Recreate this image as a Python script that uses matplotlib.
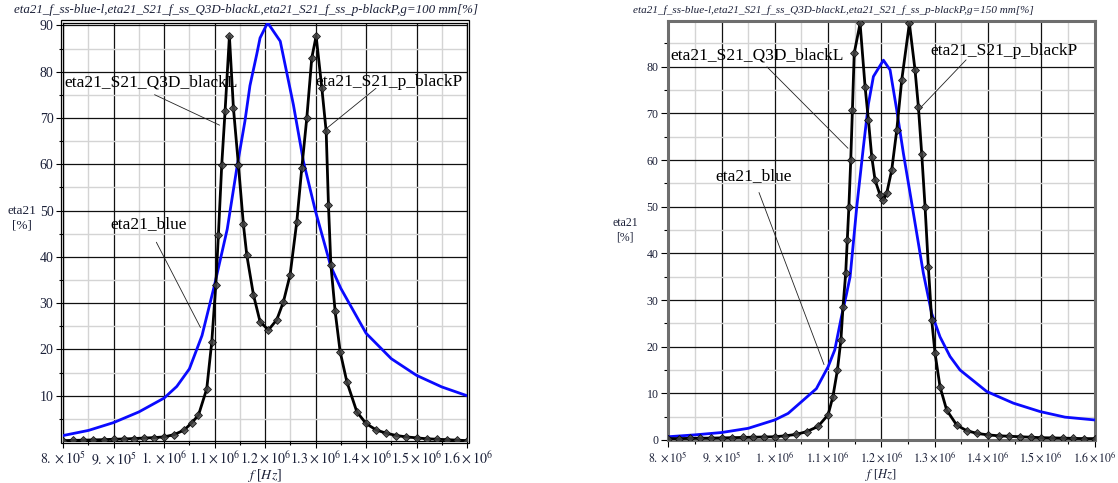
"""
Two Maple-style efficiency plots: eta21 vs f for g=100 mm and g=150 mm.
"""

import matplotlib.pyplot as plt
from matplotlib.ticker import FixedLocator, FixedFormatter, MultipleLocator
from matplotlib.patches import Rectangle

plt.rcParams['font.family'] = ['Liberation Serif', 'DejaVu Serif']
plt.rcParams['mathtext.fontset'] = 'stix'

# ---- data ------------------------------------------------------------
# g = 100 mm
freq_blue_100 = [8.0e5, 8.5e5, 9.0e5, 9.5e5, 1.0e6, 1.025e6, 1.05e6, 1.075e6,
                 1.1e6, 1.125e6, 1.144e6, 1.16e6, 1.17e6, 1.1835e6, 1.19e6,
                 1.205e6, 1.23e6, 1.256e6, 1.276e6, 1.3e6, 1.33e6, 1.35e6,
                 1.4e6, 1.45e6, 1.5e6, 1.55e6, 1.6e6]
eta_blue_100 = [1.4, 2.5, 4.2, 6.5, 9.5, 12.0, 15.8, 23.0,
                34.0, 46.0, 59.2, 69.3, 77.0, 83.8, 87.3,
                90.6, 86.6, 72.9, 60.6, 49.8, 38.0, 33.2,
                23.5, 18.0, 14.4, 11.9, 10.0]

freq_black_100 = [8.0e5, 8.2e5, 8.4e5, 8.6e5, 8.8e5, 9.0e5, 9.2e5, 9.4e5,
                  9.6e5, 9.8e5, 1.0e6, 1.02e6, 1.04e6, 1.055e6, 1.068e6,
                  1.0844e6, 1.0944e6, 1.1023e6, 1.1075e6, 1.1141e6, 1.1207e6,
                  1.1293e6, 1.1372e6, 1.1471e6, 1.157e6, 1.1637e6, 1.1769e6,
                  1.19e6, 1.2066e6, 1.2231e6, 1.2363e6, 1.2495e6, 1.2628e6,
                  1.2727e6, 1.2826e6, 1.2925e6, 1.3011e6, 1.3124e6, 1.321e6,
                  1.3255e6, 1.3303e6, 1.3388e6, 1.3487e6, 1.362e6, 1.3818e6,
                  1.4e6, 1.42e6, 1.44e6, 1.46e6, 1.48e6, 1.5e6, 1.52e6,
                  1.54e6, 1.56e6, 1.58e6, 1.6e6]
eta_q3d_100 = [0.3, 0.35, 0.4, 0.45, 0.5, 0.6, 0.65, 0.75,
               0.85, 0.95, 1.1, 1.6, 2.6, 4.2, 5.8,
               11.5, 21.7, 33.9, 44.8, 59.9, 71.5,
               87.7, 72.2, 59.9, 47.0, 40.4, 31.8,
               26.0, 24.2, 26.4, 30.3, 36.1, 47.6,
               59.2, 70.0, 83.0, 87.7, 76.5, 67.1,
               51.3, 38.3, 28.2, 19.5, 13.0, 6.5,
               4.0, 2.6, 1.9, 1.4, 1.1, 0.9, 0.7,
               0.6, 0.5, 0.4, 0.3]
eta_p_100 = list(eta_q3d_100)  # point series lies on top of the line series

# g = 150 mm
freq_blue_150 = [8.0e5, 8.5e5, 9.0e5, 9.5e5, 1.0e6, 1.025e6, 1.05e6, 1.078e6,
                 1.1e6, 1.1125e6, 1.125e6, 1.134e6, 1.1413e6, 1.1538e6,
                 1.1663e6, 1.1756e6, 1.185e6, 1.2038e6, 1.2163e6, 1.2288e6,
                 1.2413e6, 1.2538e6, 1.2663e6, 1.2788e6, 1.2944e6, 1.31e6,
                 1.3288e6, 1.3475e6, 1.3975e6, 1.4475e6, 1.4975e6, 1.5444e6,
                 1.6e6]
eta_blue_150 = [0.7, 1.1, 1.6, 2.5, 4.3, 5.7, 8.2, 11.0,
                15.7, 19.3, 26.4, 31.0, 35.0, 50.0,
                62.9, 72.0, 77.9, 81.4, 79.3, 70.7,
                61.4, 52.9, 44.3, 35.7, 27.1, 22.1,
                17.9, 15.0, 10.4, 7.9, 6.1, 4.9,
                4.3]

freq_black_150 = [8.0e5, 8.2e5, 8.4e5, 8.6e5, 8.8e5, 9.0e5, 9.2e5, 9.4e5,
                  9.6e5, 9.8e5, 1.0e6, 1.02e6, 1.04e6, 1.06e6, 1.081e6,
                  1.1e6, 1.109e6, 1.1175e6, 1.124e6, 1.128e6, 1.133e6,
                  1.136e6, 1.139e6, 1.1425e6, 1.1456e6, 1.149e6, 1.16e6,
                  1.1694e6, 1.1756e6, 1.1819e6, 1.1881e6, 1.1975e6, 1.2038e6,
                  1.21e6, 1.2194e6, 1.2288e6, 1.2381e6, 1.2525e6, 1.2631e6,
                  1.2694e6, 1.2756e6, 1.2819e6, 1.2881e6, 1.2944e6, 1.3006e6,
                  1.31e6, 1.3225e6, 1.3413e6, 1.36e6, 1.38e6, 1.4e6, 1.42e6,
                  1.44e6, 1.46e6, 1.48e6, 1.5e6, 1.52e6, 1.54e6, 1.56e6,
                  1.58e6, 1.6e6]
eta_q3d_150 = [0.3, 0.3, 0.35, 0.4, 0.4, 0.45, 0.5, 0.55,
               0.6, 0.65, 0.7, 0.9, 1.2, 1.8, 2.9,
               5.4, 9.3, 15.0, 21.4, 28.6, 35.7,
               42.9, 50.0, 60.0, 70.7, 82.9, 89.3,
               75.7, 68.6, 60.7, 55.7, 52.5, 51.4,
               52.9, 57.9, 66.4, 77.1, 89.3, 79.3,
               71.4, 61.4, 50.0, 37.1, 25.7, 18.6,
               11.4, 6.4, 3.2, 2.0, 1.4, 1.1, 0.9,
               0.8, 0.7, 0.6, 0.5, 0.45, 0.4, 0.35,
               0.3, 0.3]
eta_p_150 = list(eta_q3d_150)

xtick_values = [8e5, 9e5, 1.0e6, 1.1e6, 1.2e6, 1.3e6, 1.4e6, 1.5e6, 1.6e6]
xtick_labels = [r'$8.\times10^{5}$', r'$9.\times10^{5}$', r'$1.\times10^{6}$',
                r'$1.1\times10^{6}$', r'$1.2\times10^{6}$', r'$1.3\times10^{6}$',
                r'$1.4\times10^{6}$', r'$1.5\times10^{6}$', r'$1.6\times10^{6}$']

title_100 = "eta21_f_ss-blue-l,eta21_S21_f_ss_Q3D-blackL,eta21_S21_f_ss_p-blackP,g=100 mm[%]"
title_150 = "eta21_f_ss-blue-l,eta21_S21_f_ss_Q3D-blackL,eta21_S21_f_ss_p-blackP,g=150 mm[%]"

TXT = '#1b2038'
W, H = 1118, 483


def setup_axes(ax, ylim, yticks, spine_color, spine_lw, fs):
    ax.set_xlim(8e5, 1.6e6)
    ax.set_ylim(*ylim)
    ax.xaxis.set_major_locator(FixedLocator(xtick_values))
    ax.xaxis.set_major_formatter(FixedFormatter(xtick_labels))
    ax.xaxis.set_minor_locator(MultipleLocator(5e4))
    ax.yaxis.set_major_locator(FixedLocator(yticks))
    ax.yaxis.set_minor_locator(MultipleLocator(5))
    ax.grid(which='major', color='#111111', lw=0.9, zorder=0)
    ax.grid(which='minor', color='#d4d4d4', lw=1.0, zorder=0)
    ax.set_axisbelow(True)
    ax.tick_params(which='major', direction='out', length=5, width=0.8,
                   labelsize=fs, labelcolor=TXT, pad=2)
    ax.tick_params(which='minor', direction='out', length=3, width=0.8)
    for s in ax.spines.values():
        s.set_color(spine_color)
        s.set_linewidth(spine_lw)


def draw_curves(ax, fb, eb, fk, ek_line, ek_pts):
    ax.plot(fb, eb, color='#0a0aff', lw=2.0, zorder=3)
    ax.plot(fk, ek_line, color='black', lw=2.0, zorder=4)
    ax.plot(fk, ek_pts, ls='none', marker='D', ms=4.0, mfc='#444444',
            mec='black', mew=0.6, alpha=0.85, zorder=5)


def label(ax, text, pos, start, end):
    ax.text(pos[0], pos[1], text, fontsize=12.5, color='black',
            ha='left', va='center', zorder=6)
    ax.annotate('', xy=end, xytext=start,
                arrowprops=dict(arrowstyle='-', lw=0.6, color='#222222'),
                zorder=6)


fig = plt.figure(figsize=(W / 100, H / 100), dpi=100)

# left panel, g = 100 mm
ax1 = fig.add_axes([63.2 / W, (H - 440.7) / H, 403.8 / W, 418 / H])
setup_axes(ax1, (0.28, 90.6), [10, 20, 30, 40, 50, 60, 70, 80, 90], 'black', 0.9, 10)
ax1.add_patch(Rectangle((-0.006, -0.006), 1.012, 1.012, transform=ax1.transAxes,
                        fill=False, lw=0.9, ec='black', clip_on=False))
draw_curves(ax1, freq_blue_100, eta_blue_100, freq_black_100, eta_q3d_100, eta_p_100)
label(ax1, 'eta21_S21_Q3D_blackL', (8.02e5, 77.7), (9.76e5, 75.3), (1.1148e6, 68.2))
label(ax1, 'eta21_S21_p_blackP', (1.2991e6, 77.7), (1.4239e6, 76.8), (1.3189e6, 67.5))
label(ax1, 'eta21_blue', (8.93e5, 47.0), (9.82e5, 43.7), (1.0745e6, 24.2))

# right panel, g = 150 mm
ax2 = fig.add_axes([668.2 / W, (H - 440) / H, 426.4 / W, 419 / H])
setup_axes(ax2, (0.0, 89.8), [0, 10, 20, 30, 40, 50, 60, 70, 80], '#6e6e6e', 2.2, 8.6)
draw_curves(ax2, freq_blue_150, eta_blue_150, freq_black_150, eta_q3d_150, eta_p_150)
label(ax2, 'eta21_S21_Q3D_blackL', (8.034e5, 82.5), (9.816e5, 80.4), (1.141e6, 62.1))
label(ax2, 'eta21_blue', (8.878e5, 56.6), (9.685e5, 53.6), (1.0942e6, 15.6))
label(ax2, 'eta21_S21_p_blackP', (1.2912e6, 83.4), (1.3625e6, 81.9), (1.2724e6, 71.1))

# titles, axis labels
fig.text(14 / W, 1 - 10 / H, title_100, fontsize=9.4, style='italic',
         ha='left', va='center', color=TXT)
fig.text(633 / W, 1 - 10 / H, title_150, fontsize=8.0, style='italic',
         ha='left', va='center', color=TXT)
fig.text(265 / W, 8 / H, r'$f$ [$Hz$]', fontsize=10, ha='center',
         va='center', color=TXT)
fig.text(881 / W, 8 / H, r'$f$ [$Hz$]', fontsize=9, ha='center',
         va='center', color=TXT)
fig.text(22 / W, 1 - 218 / H, 'eta21\n[%]', fontsize=9.5, ha='center',
         va='center', color=TXT, linespacing=1.3)
fig.text(625 / W, 1 - 230 / H, 'eta21\n[%]', fontsize=8.5, ha='center',
         va='center', color=TXT, linespacing=1.3)

fig.savefig('out.png', dpi=100)
